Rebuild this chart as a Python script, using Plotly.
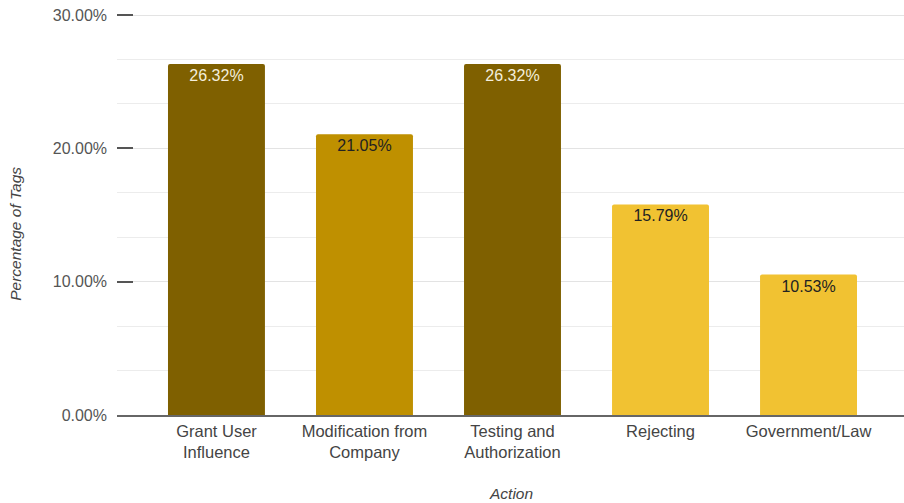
import plotly.graph_objects as go

# Share of tags per action category
categories = ["Grant User<br>Influence", "Modification from<br>Company", "Testing and<br>Authorization",
              "Rejecting", "Government/Law"]
shares = [0.2632, 0.2105, 0.2632, 0.1579, 0.1053]
bar_colors = ["#7f6000", "#bf9000", "#7f6000", "#f1c232", "#f1c232"]
label_colors = ["#f4eedc", "#222222", "#f4eedc", "#222222", "#222222"]

FONT = "Liberation Sans, Arial, sans-serif"

fig = go.Figure(
    go.Bar(
        x=list(range(len(categories))),
        y=shares,
        marker=dict(color=bar_colors, line=dict(width=0), cornerradius=2),
        width=0.655,
        texttemplate="%{y:.2%}",
        textposition="inside",
        insidetextanchor="end",
        textangle=0,
        textfont=dict(family=FONT, size=16, color=label_colors),
        hoverinfo="skip",
    )
)

fig.update_layout(
    width=904,
    height=503,
    margin=dict(l=117, r=0, t=13, b=88),
    paper_bgcolor="white",
    plot_bgcolor="white",
    showlegend=False,
    font=dict(family=FONT, size=16, color="#444444"),
    xaxis=dict(
        range=[-0.672, 4.645],
        tickmode="array",
        tickvals=list(range(len(categories))),
        ticktext=categories,
        showgrid=False,
        zeroline=False,
        showline=True,
        linecolor="#666666",
        linewidth=1.5,
        ticks="",
        tickfont=dict(size=16.5, color="#444444"),
    ),
    yaxis=dict(
        # a little headroom so the 30% grid line and tick stay inside the plot area
        range=[0, 0.3015],
        dtick=0.1,
        tick0=0,
        tickformat=".2%",
        ticks="inside",
        ticklen=16,
        tickwidth=2,
        tickcolor="#555555",
        ticklabelstandoff=9,
        showgrid=True,
        gridcolor="#e3e3e3",
        gridwidth=1,
        zeroline=False,
        showline=False,
        tickfont=dict(size=16, color="#555555"),
        minor=dict(dtick=0.1 / 3, tick0=0, showgrid=True, gridcolor="#ececec", gridwidth=1, ticks=""),
    ),
    annotations=[
        dict(text="Percentage of Tags", textangle=-90, xref="paper", yref="paper",
             x=-0.13, y=0.45, xanchor="center", yanchor="middle", showarrow=False,
             font=dict(family=FONT, size=15.5, color="#444444")),
        dict(text="Action", xref="paper", yref="paper", x=0.5, y=-0.195,
             xanchor="center", yanchor="middle", showarrow=False,
             font=dict(family=FONT, size=15.5, color="#444444")),
    ],
)
fig.update_annotations(font_style="italic")

fig.write_html("out.html")
